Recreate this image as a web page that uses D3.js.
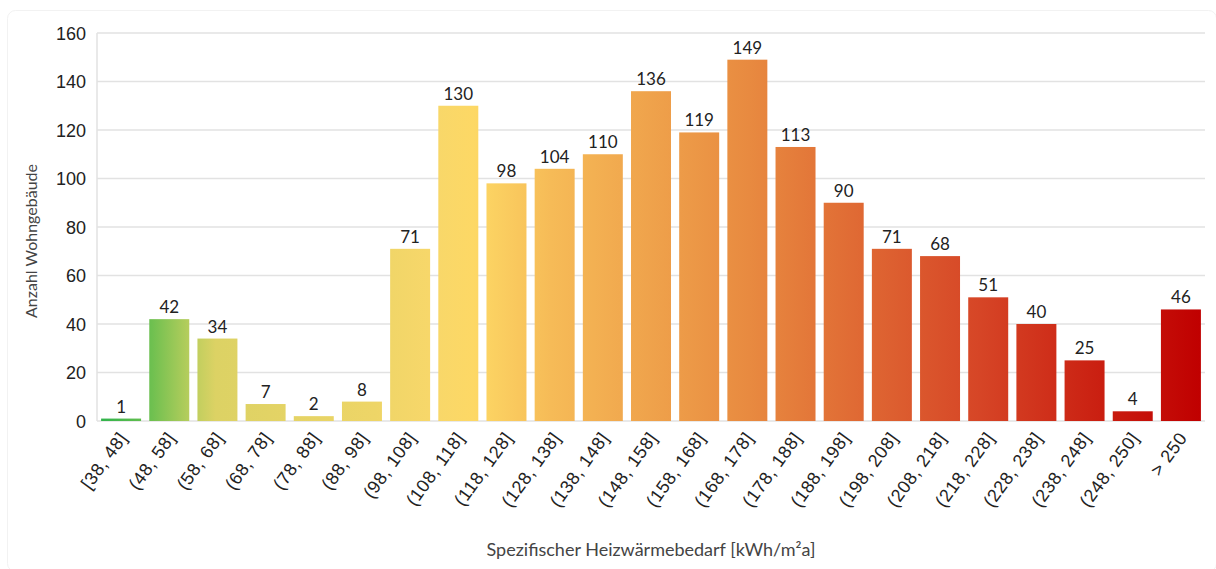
<!DOCTYPE html>
<html>
<head>
<meta charset="utf-8">
<script src="https://cdn.jsdelivr.net/npm/d3@7"></script>
<style>
  body { margin: 0; background: #fff; }
  svg { display: block; font-family: Lato, "Open Sans", sans-serif; }
  .tick text { fill: #222; }
</style>
</head>
<body>
<svg></svg>
<script>
const W = 1216, H = 569;
const margin = { top: 33, right: 11, bottom: 148, left: 97 };
const width = W - margin.left - margin.right;
const height = H - margin.top - margin.bottom;

const categories = ["[38, 48]", "(48, 58]", "(58, 68]", "(68, 78]", "(78, 88]", "(88, 98]",
    "(98, 108]", "(108, 118]", "(118, 128]", "(128, 138]", "(138, 148]", "(148, 158]",
    "(158, 168]", "(168, 178]", "(178, 188]", "(188, 198]", "(198, 208]", "(208, 218]",
    "(218, 228]", "(228, 238]", "(238, 248]", "(248, 250]", "> 250"];
const values = [1, 42, 34, 7, 2, 8, 71, 130, 98, 104, 110, 136, 119, 149, 113, 90, 71, 68, 51, 40, 25, 4, 46];
const yTicks = [0, 20, 40, 60, 80, 100, 120, 140, 160];

// colour ramp across the whole plot, left to right
const rampStops = [
    [0.00, "#2fb34b"], [0.045, "#6abf4f"], [0.08, "#b4cd5c"], [0.105, "#dcd264"],
    [0.25, "#eed567"], [0.30, "#f7d76a"], [0.34, "#fdd865"], [0.41, "#f6bb57"],
    [0.59, "#e88a40"], [0.80, "#d64526"], [1.00, "#c00000"]
];

const svg = d3.select("svg").attr("width", W).attr("height", H);

// faint frame
svg.append("rect")
    .attr("x", 7.5).attr("y", 10.5)
    .attr("width", W - 7).attr("height", H - 8)
    .attr("rx", 8)
    .attr("fill", "none")
    .attr("stroke", "#f2f2f2");

const defs = svg.append("defs");
const grad = defs.append("linearGradient")
    .attr("id", "ramp")
    .attr("gradientUnits", "userSpaceOnUse")
    .attr("x1", 3).attr("x2", width - 5)
    .attr("y1", 0).attr("y2", 0);
grad.selectAll("stop").data(rampStops).join("stop")
    .attr("offset", d => d[0])
    .attr("stop-color", d => d[1]);

const g = svg.append("g")
    .attr("transform", "translate(" + margin.left + "," + margin.top + ")");

const x = d3.scaleBand().domain(categories).range([0, width]).paddingInner(0.17).paddingOuter(0.085);
const y = d3.scaleLinear().domain([0, 160]).range([height, 0]);

// grid
g.append("g")
    .selectAll("line")
    .data(yTicks)
    .join("line")
    .attr("x1", 0).attr("x2", width)
    .attr("y1", d => y(d)).attr("y2", d => y(d))
    .attr("stroke", "#e2e2e2")
    .attr("stroke-width", 1.5);

g.append("line")
    .attr("x1", 0).attr("x2", 0)
    .attr("y1", 0).attr("y2", height)
    .attr("stroke", "#e2e2e2")
    .attr("stroke-width", 1.5);

// y axis labels
const yAxis = g.append("g")
    .call(d3.axisLeft(y).tickValues(yTicks).tickSize(0).tickPadding(11));
yAxis.select(".domain").remove();
yAxis.selectAll("text").style("font-size", "18px").attr("dy", "0.35em");

g.append("g")
    .selectAll("rect")
    .data(values)
    .join("rect")
    .attr("x", (d, i) => x(categories[i]))
    .attr("width", x.bandwidth())
    .attr("y", d => y(d))
    .attr("height", d => y(0) - y(d))
    .attr("fill", "url(#ramp)");

// value labels
g.append("g")
    .selectAll("text")
    .data(values)
    .join("text")
    .attr("x", (d, i) => x(categories[i]) + x.bandwidth() / 2)
    .attr("y", d => y(d) - 6)
    .attr("text-anchor", "middle")
    .style("font-size", "17px")
    .attr("fill", "#222")
    .text(d => d);

// x axis labels
const xAxis = g.append("g")
    .attr("transform", "translate(0," + height + ")")
    .call(d3.axisBottom(x).tickSize(0).tickPadding(0));
xAxis.select(".domain").remove();
xAxis.selectAll("text")
    .style("font-size", "18px")
    .style("letter-spacing", "0.6px")
    .attr("text-anchor", "end")
    .attr("dy", 0)
    .attr("y", 0)
    .attr("transform", "translate(7,17) rotate(-54)");

// axis titles
svg.append("text")
    .attr("transform", "translate(37,241) rotate(-90)")
    .attr("text-anchor", "middle")
    .style("font-size", "16px")
    .attr("fill", "#444")
    .text("Anzahl Wohngebäude");

svg.append("text")
    .attr("x", 651).attr("y", 556)
    .attr("text-anchor", "middle")
    .style("font-size", "18px")
    .attr("fill", "#444")
    .text("Spezifischer Heizwärmebedarf [kWh/m²a]");
</script>
</body>
</html>
